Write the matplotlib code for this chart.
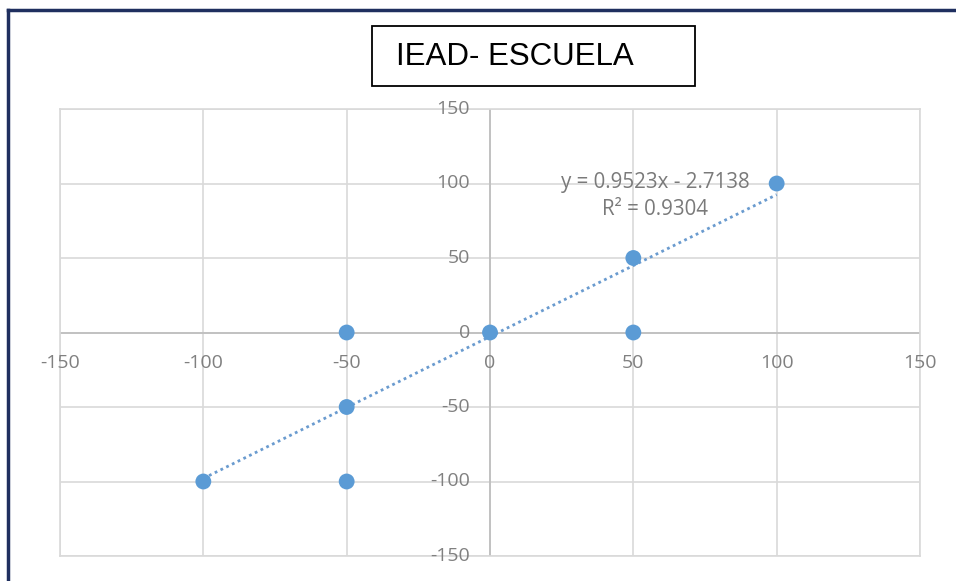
import numpy as np
import matplotlib.pyplot as plt
from matplotlib.lines import Line2D
from matplotlib.patches import Rectangle

# datos
x_vals = [-100, -50, -50, -50, 0, 50, 50, 100]
y_vals = [-100, 0, -50, -100, 0, 50, 0, 100]
pendiente = 0.9523
intercepto = -2.7138
r2 = 0.9304
ticks = [-150, -100, -50, 0, 50, 100, 150]
titulo = 'IEAD- ESCUELA'

azul = '#5B9BD5'
gris_txt = '#808080'
W, H = 956, 581

fig = plt.figure(figsize=(W/100, H/100), dpi=100)
ax = fig.add_axes([60/W, 25/H, 860/W, 447/H])

ax.set_xlim(-150, 150)
ax.set_ylim(-150, 150)
ax.set_xticks(ticks)
ax.set_yticks(ticks)
ax.grid(True, color='#D9D9D9', linewidth=1.2)
ax.set_axisbelow(True)
for s in ax.spines.values():
    s.set_color('#D9D9D9')
    s.set_linewidth(1.2)
ax.tick_params(length=0, labelbottom=False, labelleft=False)

# ejes cruzando en el origen
ax.axhline(0, color='#BFBFBF', linewidth=1.3, zorder=1)
ax.axvline(0, color='#BFBFBF', linewidth=1.3, zorder=1)

for t in ticks:
    ax.text(t, -20.8, str(t), ha='center', va='center', fontsize=14,
            color=gris_txt, family='Open Sans')
    ax.text(-7, t, str(t), ha='right', va='center', fontsize=14,
            color=gris_txt, family='Open Sans')

# linea de tendencia
xt = np.array([min(x_vals), max(x_vals)])
ax.plot(xt, pendiente*xt + intercepto, color='#6A9BCF', linestyle=(0, (1, 1.3)),
        linewidth=2, zorder=2)

ax.scatter(x_vals, y_vals, s=130, color=azul, zorder=3, edgecolors='none')

ax.text(57.6, 91.5, 'y = %.4fx - %.4f\nR² = %.4f' % (pendiente, -intercepto, r2),
        ha='center', va='center', fontsize=14.8, color='#7A7A7A',
        family='Open Sans', linespacing=1.35)

# titulo en caja
fig.add_artist(Rectangle((372/W, 1 - 86/H), 323/W, 60/H, transform=fig.transFigure,
                         facecolor='white', edgecolor='black', linewidth=1.3))
fig.text(396/W, 1 - 57/H, titulo, ha='left', va='center', fontsize=22.5,
         family='Liberation Sans', color='black')

# borde del marco
fig.add_artist(Line2D([8/W, 8/W], [0, 1 - 10/H], color='#1F2F5F',
                      linewidth=2.5, transform=fig.transFigure))
fig.add_artist(Line2D([8/W, 1], [1 - 10/H, 1 - 10/H], color='#1F2F5F',
                      linewidth=2.5, transform=fig.transFigure))

fig.savefig('out.png', dpi=100)
